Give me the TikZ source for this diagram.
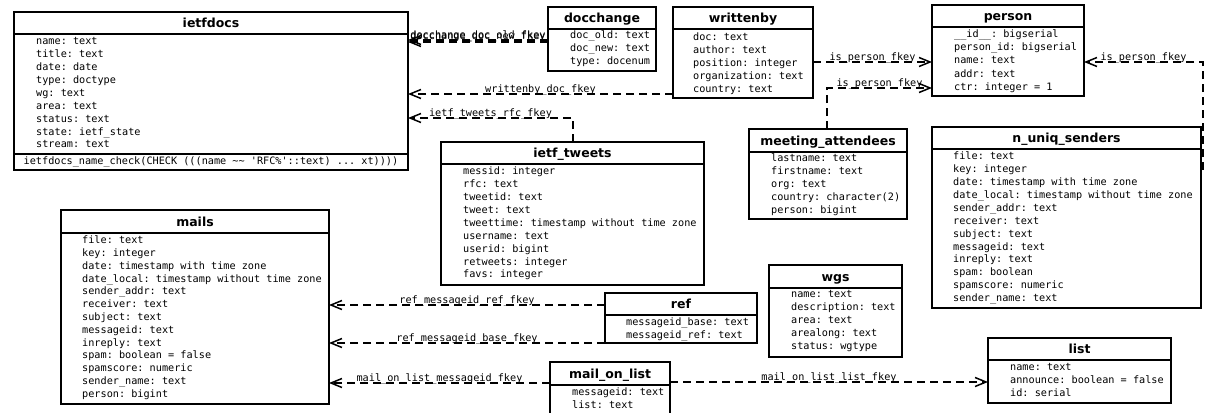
\documentclass[tikz,border=0pt]{standalone}
\usepackage{fontspec}
\setmainfont{DejaVu Sans}
\setsansfont{DejaVu Sans}
\setmonofont{DejaVu Sans Mono}
\usetikzlibrary{arrows.meta}

\tikzset{
  box/.style={draw, line width=2pt, inner sep=0pt, outer sep=0pt},
  sepline/.style={line width=2pt},
  ttl/.style={font=\sffamily\bfseries\fontsize{12.5}{14}\selectfont, inner sep=0pt, text height=9pt, text depth=0pt},
  fld/.style={font=\ttfamily\fontsize{10.2}{12}\selectfont, inner sep=0pt, anchor=west, text height=7.5pt, text depth=2pt},
  fk/.style={line width=1.8pt, dash pattern=on 8pt off 5pt, -{Straight Barb[length=11pt,width=9pt,line width=1.5pt]}},
  lbl/.style={font=\ttfamily\fontsize{10.2}{12}\selectfont, inner sep=0pt, anchor=base, yshift=2pt, fill=none},
}

\newcommand\mkbox[7]{%
  \node[box, anchor=north west, minimum width={#4-#2}, minimum height={#5-#3}] (#1) at (#2,#3) {};
  \draw[sepline] (#2,#6) -- (#4,#6);
  \node[ttl] (#1-title) at ({(#2+#4)/2},{(#3+#6)/2}) {#7};
}
\newcommand\mkfields[5]{%
  \foreach \f [count=\i from 0] in {#5}
    \node[fld] (#1-f\i) at (#2,{#3+\i*#4}) {\f};
}

\begin{document}
\begin{tikzpicture}[x=1pt,y=-1pt]
\useasboundingbox (0,0) rectangle (1206,412);
\clip (0,0) rectangle (1206,412);

% ietfdocs
\mkbox{ietfdocs}{14}{12}{408}{170}{34}{ietfdocs}
\mkfields{ietfdocs}{36}{42}{12.9}{name: text, title: text, date: date, type: doctype, wg: text, area: text, status: text, state: ietf\_state, stream: text}
\draw[sepline] (14,154) -- (408,154);
\node[fld, anchor=center] (ietfdocs-chk) at (211,162) {ietfdocs\_name\_check(CHECK (((name \textasciitilde\textasciitilde\ 'RFC\%'::text) ... xt))))};

% docchange
\mkbox{docchange}{548}{7}{656}{71}{29}{docchange}
\mkfields{docchange}{570}{36}{13}{doc\_old: text, doc\_new: text, type: docenum}

% writtenby
\mkbox{writtenby}{673}{7}{813}{98}{29}{writtenby}
\mkfields{writtenby}{693}{38}{12.9}{doc: text, author: text, position: integer, organization: text, country: text}

% person
\mkbox{person}{932}{5}{1084}{96}{27}{person}
\mkfields{person}{954}{35}{13.1}{\_\_id\_\_: bigserial, person\_id: bigserial, name: text, addr: text, ctr: integer = 1}

% ietf_tweets
\mkbox{ietf_tweets}{441}{142}{704}{285}{164}{ietf\_tweets}
\mkfields{ietf_tweets}{463}{172}{12.9}{messid: integer, rfc: text, tweetid: text, tweet: text, tweettime: timestamp without time zone, username: text, userid: bigint, retweets: integer, favs: integer}

% meeting_attendees
\mkbox{meeting_attendees}{749}{129}{907}{219}{152}{meeting\_attendees}
\mkfields{meeting_attendees}{771}{159}{12.9}{lastname: text, firstname: text, org: text, country: character(2), person: bigint}

% n_uniq_senders
\mkbox{n_uniq_senders}{932}{127}{1201}{308}{149}{n\_uniq\_senders}
\mkfields{n_uniq_senders}{953}{157}{12.9}{file: text, key: integer, date: timestamp with time zone, date\_local: timestamp without time zone, sender\_addr: text, receiver: text, subject: text, messageid: text, inreply: text, spam: boolean, spamscore: numeric, sender\_name: text}

% wgs
\mkbox{wgs}{769}{265}{902}{357}{288}{wgs}
\mkfields{wgs}{791}{295}{13}{name: text, description: text, area: text, arealong: text, status: wgtype}

% list
\mkbox{list}{988}{338}{1171}{403}{360}{list}
\mkfields{list}{1010}{368}{13}{name: text, announce: boolean = false, id: serial}

% mails
\mkbox{mails}{61}{210}{329}{404}{233}{mails}
\mkfields{mails}{82}{241}{12.8}{file: text, key: integer, date: timestamp with time zone, date\_local: timestamp without time zone, sender\_addr: text, receiver: text, subject: text, messageid: text, inreply: text, spam: boolean = false, spamscore: numeric, sender\_name: text, person: bigint}

% ref
\mkbox{ref}{605}{293}{757}{343}{315}{ref}
\mkfields{ref}{626}{323}{13}{messageid\_base: text, messageid\_ref: text}

% mail_on_list
\mkbox{mail_on_list}{550}{362}{670}{425}{385}{mail\_on\_list}
\mkfields{mail_on_list}{572}{393}{13}{messageid: text, list: text}

% connectors
\coordinate (c1) at (0,40);
\coordinate (c2) at (0,42);
\coordinate (c3) at (0,94);
\coordinate (c4) at (573,118);
\coordinate (c5) at (0,62);
\coordinate (c6) at (827,88);
\coordinate (c7) at (0,170);
\coordinate (c8) at (0,305);
\coordinate (c9) at (0,343);
\coordinate (c10) at (0,383);
\coordinate (c11) at (0,382);

\draw[fk] (docchange.west |- c1) -- node[lbl] {docchange\_doc\_old\_fkey} (ietfdocs.east |- c1);
\draw[fk] (docchange.west |- c2) -- node[lbl] {docchange\_doc\_new\_fkey} (ietfdocs.east |- c2);
\draw[fk] (writtenby.west |- c3) -- node[lbl] {writtenby\_doc\_fkey} (ietfdocs.east |- c3);
\draw[fk] (ietf_tweets.north -| c4) |- node[lbl, pos=0.75] {ietf\_tweets\_rfc\_fkey} (ietfdocs.east |- c4);
\draw[fk] (writtenby.east |- c5) -- node[lbl] {is\_person\_fkey} (person.west |- c5);
\draw[fk] (meeting_attendees.north -| c6) |- node[lbl, pos=0.75] {is\_person\_fkey} (person.west |- c6);
\draw[fk] ([xshift=2pt]n_uniq_senders.east |- c7) |- node[lbl, pos=0.75] {is\_person\_fkey} (person.east |- c5);
\draw[fk] (ref.west |- c8) -- node[lbl] {ref\_messageid\_ref\_fkey} (mails.east |- c8);
\draw[fk] (ref.west |- c9) -- node[lbl] {ref\_messageid\_base\_fkey} (mails.east |- c9);
\draw[fk] (mail_on_list.west |- c10) -- node[lbl] {mail\_on\_list\_messageid\_fkey} (mails.east |- c10);
\draw[fk] (mail_on_list.east |- c11) -- node[lbl] {mail\_on\_list\_list\_fkey} (list.west |- c11);
\end{tikzpicture}
\end{document}
